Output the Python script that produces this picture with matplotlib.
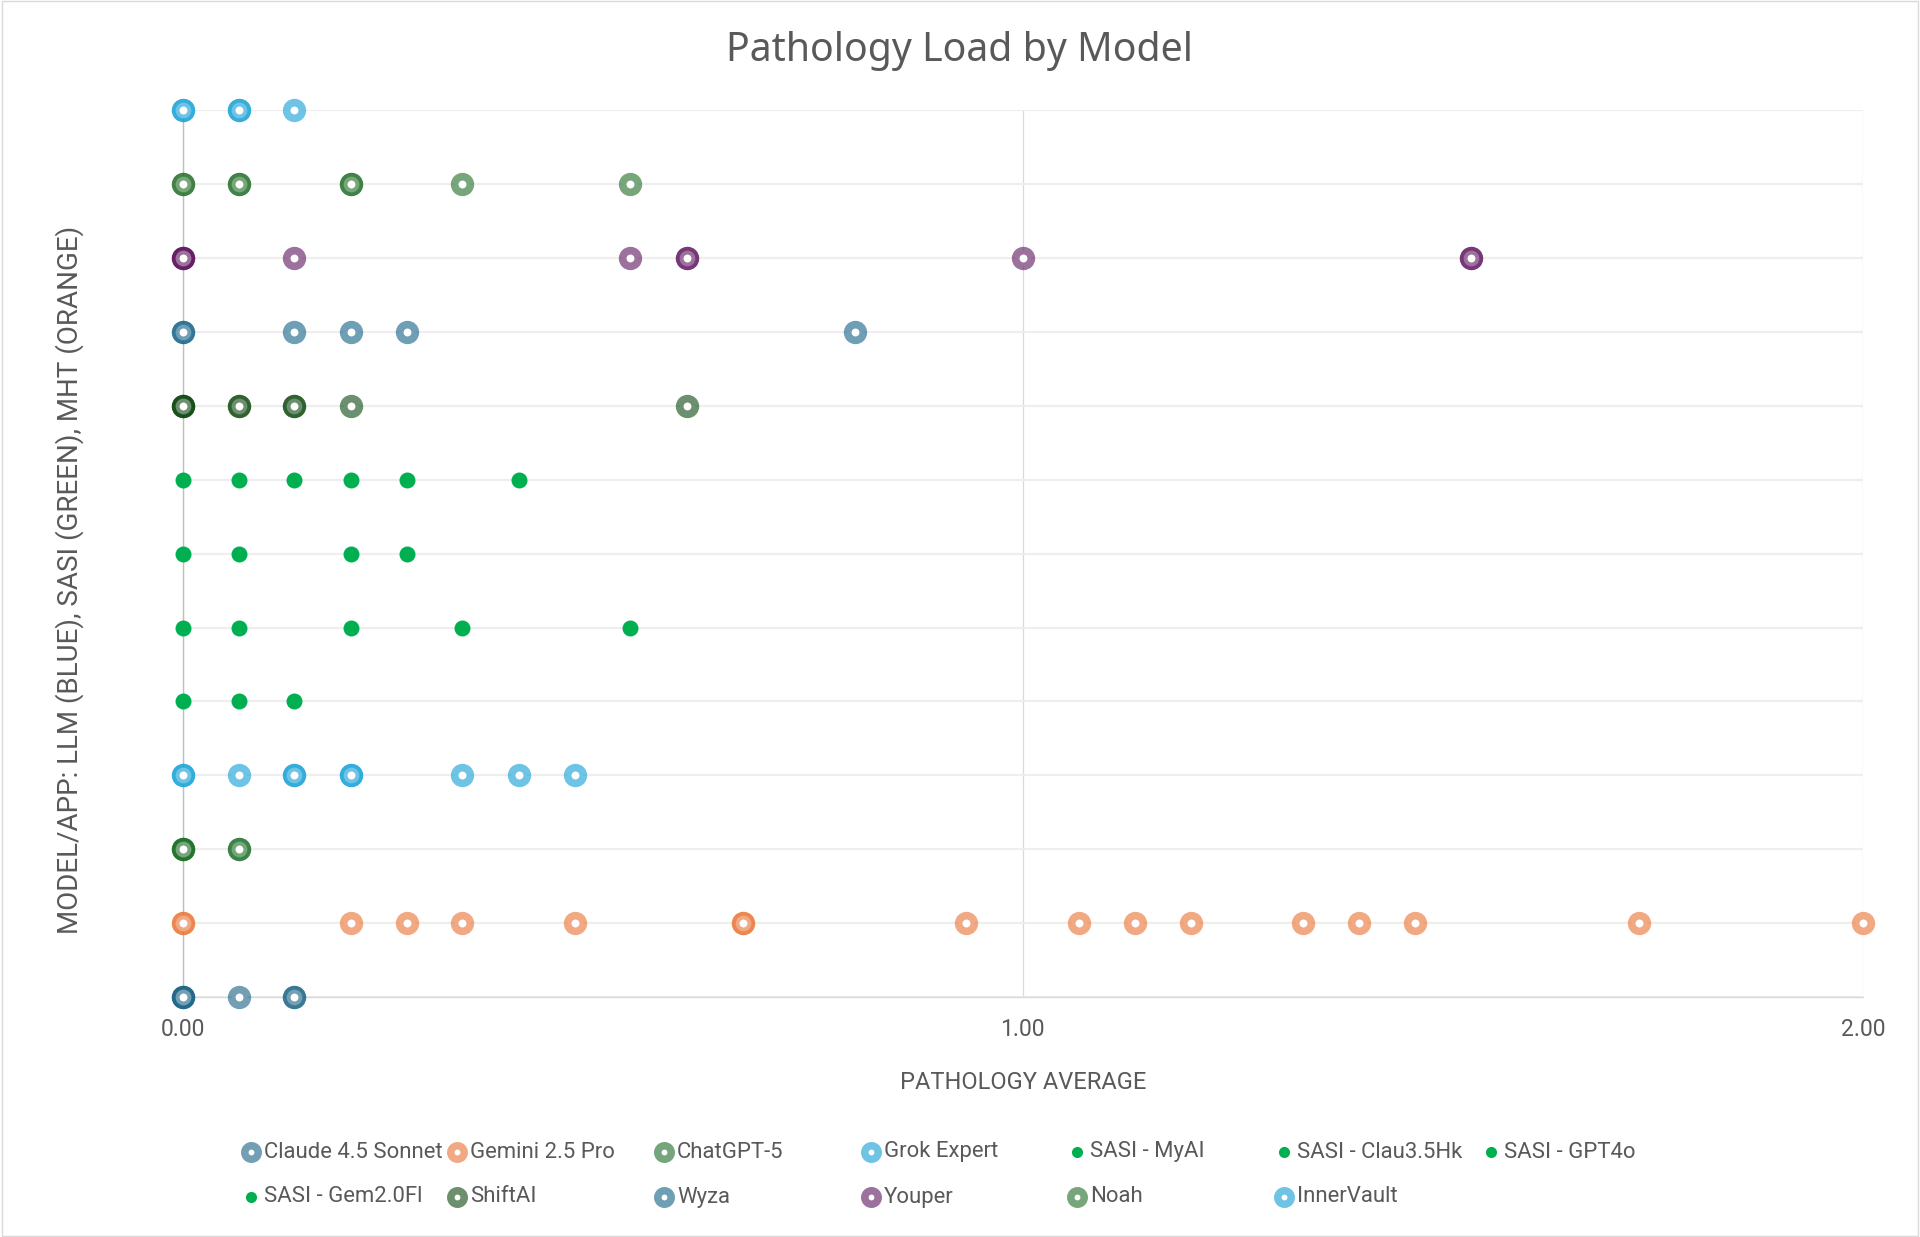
import matplotlib
matplotlib.use("Agg")
import matplotlib.pyplot as plt
from matplotlib.colors import to_rgba
from matplotlib.patches import Rectangle

# series names (bottom row first) and their pathology averages
models = ["Claude 4.5 Sonnet", "Gemini 2.5 Pro", "ChatGPT-5", "Grok Expert",
          "SASI - MyAI", "SASI - Clau3.5Hk", "SASI - GPT4o", "SASI - Gem2.0Fl",
          "ShiftAI", "Wyza", "Youper", "Noah", "InnerVault"]

claude = [0.0, 0.0, 0.0, 0.067, 0.133, 0.133]
gemini = [0.0, 0.0, 0.2, 0.267, 0.333, 0.467, 0.667, 0.667, 0.933, 1.067,
          1.133, 1.2, 1.333, 1.4, 1.467, 1.733, 2.0]
chatgpt = [0.0, 0.0, 0.0, 0.067, 0.067]
grok = [0.0, 0.0, 0.067, 0.133, 0.133, 0.2, 0.2, 0.333, 0.4, 0.467]
sasi_myai = [0.0, 0.067, 0.133]
sasi_clau = [0.0, 0.067, 0.2, 0.333, 0.533]
sasi_gpt4o = [0.0, 0.067, 0.2, 0.267]
sasi_gem = [0.0, 0.067, 0.133, 0.2, 0.267, 0.4]
shiftai = [0.0, 0.0, 0.0, 0.067, 0.067, 0.133, 0.133, 0.2, 0.6]
wyza = [0.0, 0.0, 0.133, 0.2, 0.267, 0.8]
youper = [0.0, 0.0, 0.0, 0.133, 0.533, 0.6, 0.6, 1.0, 1.533, 1.533]
noah = [0.0, 0.0, 0.067, 0.067, 0.2, 0.2, 0.333, 0.533]
innervault = [0.0, 0.0, 0.067, 0.067, 0.133]

values = [claude, gemini, chatgpt, grok, sasi_myai, sasi_clau, sasi_gpt4o,
          sasi_gem, shiftai, wyza, youper, noah, innervault]
colors = ["#156082", "#E97132", "#196B24", "#0F9ED5", "#00B050", "#00B050",
          "#00B050", "#00B050", "#0A440C", "#0E5F84", "#5C135C", "#1F6B24",
          "#0F9ED5"]
solid = [False, False, False, False, True, True, True, True,
         False, False, False, False, False]

txt = "#595959"
plt.rcParams["font.family"] = ["Roboto", "DejaVu Sans"]

fig = plt.figure(figsize=(19.2, 12.37), dpi=100)
ax = fig.add_axes([0.0951, 0.194, 0.8752, 0.7168])

for i, (vals, c, s) in enumerate(zip(values, colors, solid)):
    ys = [i] * len(vals)
    if s:
        ax.scatter(vals, ys, s=11.5 ** 2, color=c, linewidths=0, zorder=3, clip_on=False)
    else:
        ax.scatter(vals, ys, s=11.3 ** 2, facecolors="white",
                   edgecolors=[to_rgba(c, 0.6)], linewidths=5.5, zorder=3, clip_on=False)

ax.set_xlim(0, 2)
ax.set_ylim(0, 12)
ax.set_xticks([0, 1, 2])
ax.set_xticklabels(["0.00", "1.00", "2.00"])
ax.set_yticks(range(13))
ax.set_yticklabels([])
ax.tick_params(length=0, labelsize=16.5, labelcolor=txt, pad=15)
ax.xaxis.grid(True, color="#D9D9D9", lw=0.9)
ax.yaxis.grid(True, color="#EEEEEE", lw=1.6)
ax.set_axisbelow(True)
for side in ["top", "right"]:
    ax.spines[side].set_visible(False)
ax.spines["left"].set_color("#BFBFBF")
ax.spines["bottom"].set_color("#D9D9D9")
ax.spines["left"].set_linewidth(1.0)
ax.spines["bottom"].set_linewidth(1.0)

ax.set_xlabel("PATHOLOGY AVERAGE", fontsize=17, color=txt, labelpad=22)
fig.text(70 / 1920, 0.531, "MODEL/APP: LLM (BLUE), SASI (GREEN), MHT (ORANGE)",
         rotation=90, ha="center", va="center", fontsize=20, color=txt)
fig.text(0.4995, 1 - 51 / 1237, "Pathology Load by Model", ha="center", va="center",
         fontsize=28.3, color=txt, family=["Noto Sans", "DejaVu Sans"])

# legend laid out like Excel: fixed width columns, 7 per row
lg = fig.add_axes([0, 0, 1, 1], zorder=-1)
lg.set_xlim(0, 1920)
lg.set_ylim(1237, 0)
lg.axis("off")
for i, (name, c, s) in enumerate(zip(models, colors, solid)):
    x = 250.5 + 206.7 * (i % 7)
    y = 1152 + 45 * (i // 7)
    if s:
        lg.plot(x, y, "o", ms=8, color=c, mew=0)
    else:
        lg.plot(x, y, "o", ms=9.7, mfc="white", mec=to_rgba(c, 0.6), mew=5.4)
    lg.text(x + 13, y, name, ha="left", va="center", fontsize=15.9, color=txt)

fig.add_artist(Rectangle((0.001, 0.001), 0.998, 0.998, transform=fig.transFigure,
                         fill=False, edgecolor="#D9D9D9", lw=1))

fig.savefig("out.png", dpi=100)
